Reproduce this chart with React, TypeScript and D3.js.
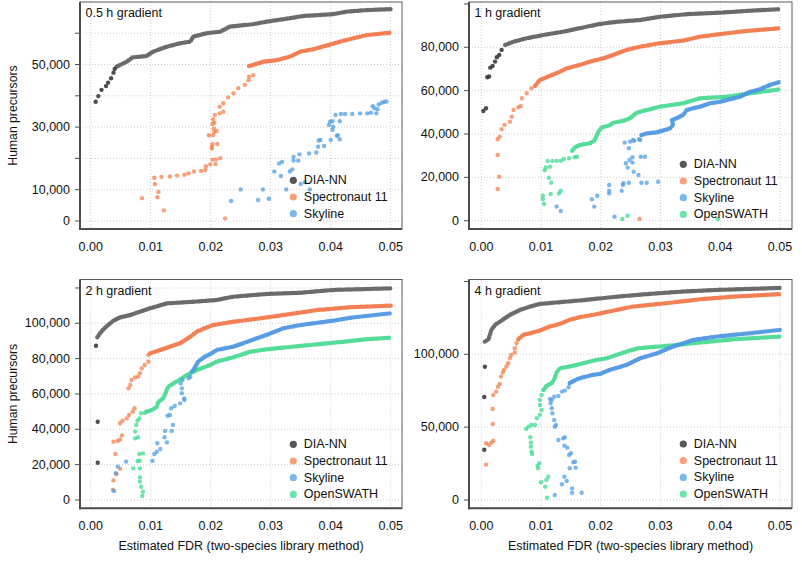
import React from "react";
import * as d3 from "d3";

type P = [number, number];

// ---------- shared labels ----------
const SERIES_NAMES = ["DIA-NN", "Spectronaut 11", "Skyline", "OpenSWATH"];
const X_TICKS = [0, 0.01, 0.02, 0.03, 0.04, 0.05];
const X_TITLE = "Estimated FDR (two-species library method)";
const Y_TITLE = "Human precursors";
const PANEL_TITLES = ["0.5 h gradient", "1 h gradient", "2 h gradient", "4 h gradient"];

// ---------- 0.5 h ----------
const p1Y_TICKS = [0, 10000, 20000, 30000, 40000, 50000, 60000];
const p1Y_LABELS = [0, 10000, 30000, 50000];
const p1DiaPts: P[] = [[0.00083,38100],[0.00127,39900],[0.0018,41900],[0.00255,43100],[0.0029,44200],[0.0034,45600],[0.0038,47400],[0.004,48600]];
const p1DiaCurve: P[] = [[0.0043,49300],[0.006,50900],[0.007,52300],[0.0093,52700],[0.0104,54100],[0.0127,55700],[0.0149,56800],[0.0166,57300],[0.0171,58900],[0.0193,60000],[0.0216,60500],[0.0232,62100],[0.0271,62900],[0.0293,63700],[0.0332,64800],[0.0354,65500],[0.0404,66100],[0.0427,66900],[0.046,67400],[0.05,67700]];
const p1SpecPts: P[] = [[0.00855,7300],[0.0122,3400],[0.0111,7600],[0.0113,9300],[0.0107,11800],[0.0106,13800],[0.0118,14100],[0.0132,14200],[0.0144,14500],[0.0156,14800],[0.0163,15200],[0.0172,15800],[0.0184,16000],[0.0191,16300],[0.0192,17500],[0.0199,18100],[0.0208,18200],[0.0209,19700],[0.0216,20100],[0.0203,19600],[0.0211,24600],[0.0203,24600],[0.0202,23200],[0.0202,23700],[0.0197,27400],[0.0204,27400],[0.0206,28400],[0.021,28800],[0.0205,29500],[0.0206,31400],[0.0224,850],[0.0203,31000],[0.0204,32500],[0.0207,33900],[0.0215,34400],[0.0221,34900],[0.0215,36500],[0.0221,37600],[0.0229,39500],[0.0238,40800],[0.0246,42400],[0.0257,43500],[0.0263,45000],[0.0271,46600],[0.0264,46100]];
const p1SpecCurve: P[] = [[0.0264,49500],[0.0288,50900],[0.031,51400],[0.0332,52500],[0.0349,54100],[0.0371,54900],[0.0396,56200],[0.0421,57600],[0.0438,58400],[0.046,59400],[0.05,60200]];
const p1SkyPts: P[] = [[0.0234,6400],[0.025,10100],[0.0279,6700],[0.0287,10100],[0.0297,7100],[0.0326,10100],[0.0317,14400],[0.0306,15800],[0.0314,18400],[0.0319,18900],[0.0332,15800],[0.0336,16500],[0.0338,19300],[0.0338,20500],[0.0346,19300],[0.0348,21300],[0.035,11800],[0.0357,12400],[0.0365,10100],[0.0364,21600],[0.0376,21900],[0.0379,23700],[0.038,25700],[0.0383,25900],[0.0389,24000],[0.04,25900],[0.0412,27400],[0.0415,26100],[0.041,27200],[0.0403,29100],[0.0404,30100],[0.0397,30700],[0.0399,31700],[0.0403,31900],[0.0415,31900],[0.0408,33900],[0.0417,34200],[0.0424,34200],[0.0436,34200],[0.0449,34400],[0.0461,34400],[0.0467,34600],[0.0476,34400],[0.0478,35700],[0.047,36700],[0.0473,36000],[0.048,37200],[0.0485,37800],[0.0489,38000],[0.0493,38200]];

// ---------- 1 h ----------
const p2Y_TICKS = [0, 20000, 40000, 60000, 80000, 100000];
const p2Y_LABELS = [0, 20000, 40000, 60000, 80000];
const p2DiaPts: P[] = [[0.00034,50600],[0.00079,51900],[0.001,66200],[0.0013,66500],[0.0015,70600],[0.0019,71400],[0.0023,73400],[0.0026,75400],[0.003,76500],[0.0034,78800]];
const p2DiaCurve: P[] = [[0.004,81100],[0.0054,82600],[0.0076,84200],[0.011,86000],[0.0143,87500],[0.0176,89500],[0.0199,90800],[0.0227,91800],[0.0266,92600],[0.0299,94100],[0.0344,95300],[0.04,96000],[0.045,96900],[0.05,97600]];
const p2SpecPts: P[] = [[0.00274,14600],[0.003,20300],[0.00274,30300],[0.00274,37600],[0.0031,38800],[0.0034,42200],[0.0039,44200],[0.0048,45700],[0.0051,48000],[0.0054,51100],[0.0062,52300],[0.0066,52900],[0.0068,56500],[0.0076,58800],[0.0084,61100],[0.0265,800]];
const p2SpecCurve: P[] = [[0.009,62200],[0.0098,64900],[0.0112,66500],[0.0132,68800],[0.0143,70300],[0.0165,71900],[0.0182,73400],[0.0204,74900],[0.0221,76500],[0.0243,78800],[0.0266,80300],[0.0299,81900],[0.0338,83100],[0.0366,84900],[0.0411,86500],[0.045,87700],[0.05,88800]];
const p2SkyPts: P[] = [[0.0126,6500],[0.0133,4500],[0.0185,9900],[0.0189,6500],[0.0194,11500],[0.0214,16500],[0.0214,13800],[0.0214,12600],[0.0223,1800],[0.0235,13800],[0.0237,16500],[0.0238,17300],[0.0247,17500],[0.0242,26500],[0.0245,24500],[0.0248,28000],[0.0253,29300],[0.0253,26800],[0.0255,22600],[0.0263,21100],[0.0247,33400],[0.024,36000],[0.0249,36500],[0.0256,36900],[0.0264,37600],[0.0268,17500],[0.0277,17500],[0.0267,29500],[0.0274,29500],[0.0296,18000],[0.0254,37200],[0.0266,37200]];
const p2SkyCurve: P[] = [[0.0268,39500],[0.0277,40300],[0.0294,40800],[0.0308,41900],[0.0316,42600],[0.0321,44200],[0.0319,46500],[0.0327,47300],[0.0338,48800],[0.0344,51100],[0.0355,51900],[0.0366,52600],[0.0383,54200],[0.04,54900],[0.0416,56000],[0.0433,57200],[0.045,59500],[0.0466,60600],[0.0483,62600],[0.05,64100]];
const p2OswPts: P[] = [[0.0105,7700],[0.0103,9900],[0.0103,11500],[0.0116,12300],[0.013,12600],[0.0133,13800],[0.0117,17500],[0.0113,19800],[0.0106,23300],[0.0108,24600],[0.0115,24900],[0.0111,27600],[0.0119,27600],[0.0126,27600],[0.0133,27700],[0.0138,28500],[0.0147,28800],[0.0156,29300],[0.016,29500],[0.0236,800],[0.0245,2300],[0.0396,800]];
const p2OswCurve: P[] = [[0.0152,32300],[0.0157,33900],[0.0165,35000],[0.0182,35700],[0.0189,36900],[0.0193,39100],[0.0196,41100],[0.0202,43100],[0.0213,43800],[0.0221,45200],[0.0238,46100],[0.0249,47300],[0.026,49800],[0.0266,50300],[0.0299,52600],[0.0338,54200],[0.0366,56500],[0.0411,57200],[0.045,58800],[0.05,60600]];

// ---------- 2 h ----------
const p3Y_TICKS = [0, 20000, 40000, 60000, 80000, 100000, 120000];
const p3Y_LABELS = [0, 20000, 40000, 60000, 80000, 100000];
const p3DiaPts: P[] = [[0.00088,87300],[0.00117,44300],[0.00117,21100]];
const p3DiaCurve: P[] = [[0.0011,92100],[0.00155,94300],[0.0021,96600],[0.0029,99000],[0.0038,101500],[0.0049,103400],[0.0066,104700],[0.0082,106600],[0.0099,108500],[0.0127,111300],[0.0171,112200],[0.021,113200],[0.0238,115100],[0.0293,116600],[0.0349,117300],[0.0404,118900],[0.046,119400],[0.05,119800]];
const p3SpecPts: P[] = [[0.0037,5700],[0.0038,11100],[0.0043,14700],[0.0049,17700],[0.0041,26000],[0.0038,33000],[0.0045,33400],[0.0049,34300],[0.0052,36600],[0.0049,43400],[0.0053,44900],[0.006,46200],[0.0064,48100],[0.007,50000],[0.0073,51900],[0.0063,63200],[0.0066,65100],[0.0068,67900],[0.0074,69400],[0.0079,69800],[0.0082,71700],[0.0085,74500],[0.009,76400],[0.0096,78300],[0.0096,82100]];
const p3SpecCurve: P[] = [[0.0099,83000],[0.0116,84900],[0.0132,86800],[0.0149,88700],[0.0166,92400],[0.0177,95300],[0.019,97200],[0.0204,99000],[0.0238,100900],[0.0282,102800],[0.0321,104700],[0.0377,107500],[0.0432,109100],[0.05,110000]];
const p3SkyPts: P[] = [[0.0039,5100],[0.0042,15100],[0.0045,18900],[0.0059,21700],[0.0103,22200],[0.0106,26000],[0.011,27300],[0.0116,28900],[0.0111,32100],[0.0127,32600],[0.0123,35500],[0.0124,39100],[0.0135,39100],[0.0137,42500],[0.0128,47700],[0.0132,48100],[0.0134,51900],[0.014,53200],[0.0149,54700],[0.0156,56600],[0.0156,57500],[0.0152,60400],[0.0152,63200],[0.015,66000],[0.0153,67900],[0.0163,68900],[0.0166,69800],[0.0168,72600]];
const p3SkyCurve: P[] = [[0.0171,73600],[0.0179,78300],[0.019,81100],[0.0199,82500],[0.021,84900],[0.0238,86800],[0.0266,90200],[0.0293,93400],[0.0321,97200],[0.0349,99000],[0.0404,101500],[0.0438,103400],[0.05,105700]];
const p3OswPts: P[] = [[0.0086,2300],[0.0087,4700],[0.0084,7500],[0.0082,10400],[0.0082,12800],[0.0071,17900],[0.0082,17900],[0.0082,22200],[0.0087,26400],[0.0081,26000],[0.0078,22100],[0.0074,34900],[0.0079,35500],[0.0074,38700],[0.0076,42500],[0.0078,44900],[0.0081,46200],[0.0084,49100],[0.009,49400]];
const p3OswCurve: P[] = [[0.0093,50000],[0.0102,50900],[0.011,52800],[0.0113,55600],[0.0121,57500],[0.0129,64100],[0.0143,67000],[0.016,70700],[0.0177,73600],[0.0199,76400],[0.021,78300],[0.0238,80800],[0.0266,83900],[0.0293,85300],[0.0349,87200],[0.0404,89000],[0.046,91000],[0.05,91900]];

// ---------- 4 h ----------
const p4Y_TICKS = [0, 50000, 100000, 150000];
const p4Y_LABELS = [0, 50000, 100000];
const p4DiaPts: P[] = [[0.0006,91500],[0.0005,70700],[0.0005,34500]];
const p4DiaCurve: P[] = [[0.0006,108700],[0.0012,110300],[0.0017,116800],[0.0023,120200],[0.0034,123200],[0.0048,127100],[0.0065,130500],[0.0082,132800],[0.0098,134600],[0.0143,136200],[0.0176,137400],[0.0227,139600],[0.0282,141500],[0.0338,143100],[0.0394,144200],[0.045,144900],[0.05,145600]];
const p4SpecPts: P[] = [[0.0008,24300],[0.0008,38900],[0.0013,37800],[0.0017,39400],[0.002,40700],[0.0019,52200],[0.0019,62500],[0.002,72100],[0.0025,74400],[0.0028,77800],[0.0031,79700],[0.0033,84700],[0.0036,87500],[0.0038,89300],[0.0042,91600],[0.0045,93900],[0.0048,97300],[0.005,99600],[0.0056,101200],[0.0056,104200],[0.0059,107600]];
const p4SpecCurve: P[] = [[0.0062,110300],[0.007,113300],[0.0082,114500],[0.0098,116300],[0.0115,119100],[0.0132,120900],[0.0148,123700],[0.0165,125500],[0.0187,127100],[0.0227,130500],[0.0254,132800],[0.031,135100],[0.0366,137800],[0.0422,139600],[0.05,141300]];
const p4SkyPts: P[] = [[0.0123,3400],[0.0135,10800],[0.0143,13000],[0.0139,16000],[0.0152,8000],[0.0152,5000],[0.0168,5000],[0.0148,21800],[0.0158,22200],[0.0154,25900],[0.0157,26300],[0.0147,30900],[0.015,32100],[0.0144,35900],[0.0139,37300],[0.0137,42300],[0.014,43100],[0.0129,41200],[0.0123,50300],[0.0125,51500],[0.0122,54900],[0.0119,59500],[0.0118,63000],[0.0116,66400],[0.0118,68700],[0.0115,69400],[0.0122,70900],[0.0129,71400],[0.0135,74400],[0.014,75100],[0.0146,77400]];
const p4SkyCurve: P[] = [[0.0148,80200],[0.016,82900],[0.0171,84300],[0.0187,85900],[0.0199,86600],[0.0215,89300],[0.0243,92700],[0.0266,97300],[0.0294,100700],[0.0321,105300],[0.0355,109900],[0.0394,112200],[0.045,114500],[0.05,116800]];
const p4OswPts: P[] = [[0.011,1600],[0.0107,9100],[0.01,12200],[0.0109,13700],[0.0112,16000],[0.0095,21800],[0.0097,25200],[0.0094,23600],[0.0085,31600],[0.0084,33200],[0.0083,36600],[0.0083,39400],[0.0082,43100],[0.0075,48800],[0.0079,50300],[0.0084,51500],[0.009,51500],[0.0093,56100],[0.0098,58400],[0.0101,61800],[0.0098,65200],[0.0098,68700],[0.0101,72100]];
const p4OswCurve: P[] = [[0.0104,75500],[0.0109,78300],[0.0118,80200],[0.0123,83600],[0.0126,87500],[0.0132,90500],[0.0148,91600],[0.0171,93900],[0.0193,96200],[0.021,97300],[0.0243,101900],[0.0263,104200],[0.031,105800],[0.0366,108100],[0.0422,110300],[0.05,112200]];

// ---------- styling ----------
const PT_COLORS = ["#3a3a3a", "#f4804e", "#4f9ee6", "#3ddb8f"];
const CURVE_COLORS = ["#5e5e5e", "#f27445", "#4a94e2", "#45d990"];
const FONT = "'Liberation Sans', Arial, Helvetica, sans-serif";

type Series = { idx: number; pts: P[]; curve: P[] };
type PanelCfg = {
  title: string;
  frame: { x0: number; x1: number; y0: number; y1: number };
  xr: [number, number];
  yRef: number;
  yr: [number, number];
  yTicks: number[];
  yLabels: number[];
  series: Series[];
  legend: { x: number; y: number };
  leftTitle: boolean;
  bottomTitle: boolean;
};

const PANELS: PanelCfg[] = [
  {
    title: PANEL_TITLES[0],
    frame: { x0: 80, x1: 402, y0: 2, y1: 229 },
    xr: [90.7, 390.7], yRef: 60000, yr: [221, 33.2],
    yTicks: p1Y_TICKS, yLabels: p1Y_LABELS,
    series: [
      { idx: 0, pts: p1DiaPts, curve: p1DiaCurve },
      { idx: 1, pts: p1SpecPts, curve: p1SpecCurve },
      { idx: 2, pts: p1SkyPts, curve: [] },
    ],
    legend: { x: 293.3, y: 180.3 }, leftTitle: true, bottomTitle: false,
  },
  {
    title: PANEL_TITLES[1],
    frame: { x0: 469, x1: 792, y0: 2, y1: 229 },
    xr: [481.3, 780], yRef: 80000, yr: [220.7, 47.3],
    yTicks: p2Y_TICKS, yLabels: p2Y_LABELS,
    series: [
      { idx: 0, pts: p2DiaPts, curve: p2DiaCurve },
      { idx: 1, pts: p2SpecPts, curve: p2SpecCurve },
      { idx: 3, pts: p2OswPts, curve: p2OswCurve },
      { idx: 2, pts: p2SkyPts, curve: p2SkyCurve },
    ],
    legend: { x: 683.3, y: 164.3 }, leftTitle: false, bottomTitle: false,
  },
  {
    title: PANEL_TITLES[2],
    frame: { x0: 80, x1: 402, y0: 279.5, y1: 508.3 },
    xr: [90.7, 390.7], yRef: 100000, yr: [500, 323.3],
    yTicks: p3Y_TICKS, yLabels: p3Y_LABELS,
    series: [
      { idx: 0, pts: p3DiaPts, curve: p3DiaCurve },
      { idx: 1, pts: p3SpecPts, curve: p3SpecCurve },
      { idx: 3, pts: p3OswPts, curve: p3OswCurve },
      { idx: 2, pts: p3SkyPts, curve: p3SkyCurve },
    ],
    legend: { x: 293.3, y: 444.3 }, leftTitle: true, bottomTitle: true,
  },
  {
    title: PANEL_TITLES[3],
    frame: { x0: 469, x1: 792, y0: 279.5, y1: 508.3 },
    xr: [481.3, 780], yRef: 100000, yr: [500, 354.3],
    yTicks: p4Y_TICKS, yLabels: p4Y_LABELS,
    series: [
      { idx: 0, pts: p4DiaPts, curve: p4DiaCurve },
      { idx: 1, pts: p4SpecPts, curve: p4SpecCurve },
      { idx: 3, pts: p4OswPts, curve: p4OswCurve },
      { idx: 2, pts: p4SkyPts, curve: p4SkyCurve },
    ],
    legend: { x: 683.3, y: 444 }, leftTitle: false, bottomTitle: true,
  },
];

const fmtY = d3.format(",");
const fmtX = d3.format(".2f");

function Panel({ cfg }: { cfg: PanelCfg }) {
  const { frame } = cfg;
  const x = d3.scaleLinear().domain([0, 0.05]).range(cfg.xr);
  const y = d3.scaleLinear().domain([0, cfg.yRef]).range(cfg.yr);
  const line = d3.line<P>().x((d) => x(d[0])).y((d) => y(d[1]));
  const legendIdx = cfg.series.map((s) => s.idx).sort((a, b) => a - b);
  const axisColor = "#4d4d4d";
  return (
    <g>
      {/* grid */}
      {X_TICKS.map((t) => (
        <line key={"gx" + t} x1={x(t)} x2={x(t)} y1={frame.y0} y2={frame.y1}
          stroke="#c8c8c8" strokeWidth={0.9} strokeDasharray="1 2" />
      ))}
      {cfg.yTicks.filter((t) => y(t) > frame.y0 + 3).map((t) => (
        <line key={"gy" + t} x1={frame.x0} x2={frame.x1} y1={y(t)} y2={y(t)}
          stroke="#c8c8c8" strokeWidth={0.9} strokeDasharray="1 2" />
      ))}
      {/* dense curves */}
      {cfg.series.map((s) =>
        s.curve.length ? (
          <path key={"c" + s.idx} d={line(s.curve) || ""} fill="none"
            stroke={CURVE_COLORS[s.idx]} strokeWidth={4.4} strokeLinecap="round"
            strokeLinejoin="round" strokeDasharray="0 2.3" strokeOpacity={0.92} />
        ) : null
      )}
      {/* sparse points */}
      {cfg.series.map((s) => (
        <g key={"p" + s.idx}>
          {s.pts.map((d, i) => (
            <circle key={i} cx={x(d[0])} cy={y(d[1])} r={2.2}
              fill={PT_COLORS[s.idx]} fillOpacity={s.idx === 0 ? 0.9 : 0.75} />
          ))}
        </g>
      ))}
      {/* frame */}
      <rect x={frame.x0} y={frame.y0} width={frame.x1 - frame.x0} height={frame.y1 - frame.y0}
        fill="none" stroke="#5a5a5a" strokeWidth={1} />
      <line x1={frame.x0} x2={frame.x0} y1={frame.y0} y2={frame.y1 + 1} stroke={axisColor} strokeWidth={2} />
      <line x1={frame.x0 - 1} x2={frame.x1} y1={frame.y1} y2={frame.y1} stroke={axisColor} strokeWidth={2} />
      {/* y ticks */}
      {cfg.yTicks.map((t) => (
        <line key={"ty" + t} x1={frame.x0 - 5} x2={frame.x0} y1={y(t)} y2={y(t)} stroke={axisColor} strokeWidth={1} />
      ))}
      {cfg.yLabels.map((t) => (
        <text key={"ly" + t} x={frame.x0 - 10} y={y(t)} textAnchor="end" dominantBaseline="central"
          fontSize={12.5} fill="#111" fontFamily={FONT}>{fmtY(t)}</text>
      ))}
      {/* x labels */}
      {X_TICKS.map((t) => (
        <text key={"lx" + t} x={x(t)} y={frame.y1 + 18} textAnchor="middle" dominantBaseline="central"
          fontSize={12.5} fill="#111" fontFamily={FONT}>{fmtX(t)}</text>
      ))}
      {/* title */}
      <text x={frame.x0 + 5.5} y={frame.y0 + 11} dominantBaseline="central" fontSize={12.5}
        fill="#111" fontFamily={FONT}>{cfg.title}</text>
      {/* legend */}
      {legendIdx.map((k, i) => (
        <g key={"lg" + k}>
          <circle cx={cfg.legend.x} cy={cfg.legend.y + i * 16.7} r={3.6} fill={PT_COLORS[k]}
            fillOpacity={k === 0 ? 0.85 : 0.75} />
          <text x={cfg.legend.x + 10.5} y={cfg.legend.y + i * 16.7} dominantBaseline="central"
            fontSize={12.5} fill="#111" fontFamily={FONT}>{SERIES_NAMES[k]}</text>
        </g>
      ))}
      {cfg.leftTitle && (
        <text transform={`translate(13,${(frame.y0 + frame.y1) / 2}) rotate(-90)`} textAnchor="middle"
          dominantBaseline="central" fontSize={12.2} fill="#111" fontFamily={FONT}>{Y_TITLE}</text>
      )}
      {cfg.bottomTitle && (
        <text x={(frame.x0 + frame.x1) / 2} y={546} textAnchor="middle" dominantBaseline="central"
          fontSize={12.5} fill="#111" fontFamily={FONT}>{X_TITLE}</text>
      )}
    </g>
  );
}

export default function App() {
  return (
    <svg width={802} height={574} style={{ position: "absolute", left: 0, top: 0, background: "#fff" }}>
      <rect width={802} height={574} fill="#fff" />
      {PANELS.map((p, i) => (
        <Panel key={i} cfg={p} />
      ))}
    </svg>
  );
}
